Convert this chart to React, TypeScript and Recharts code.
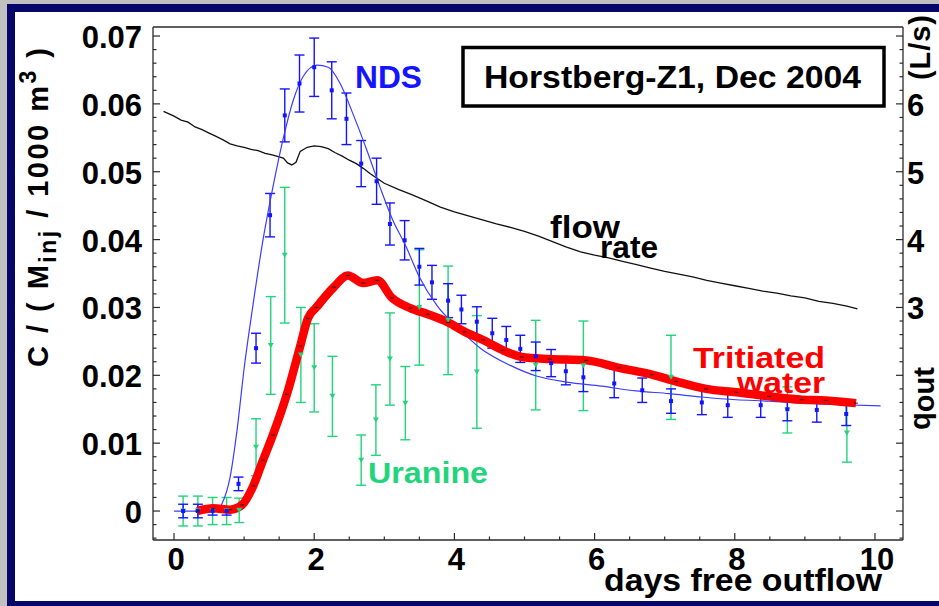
import React from "react";
import { ComposedChart, Line, Scatter, ErrorBar, XAxis, YAxis } from "recharts";

const W = 939;
const H = 606;
const PLOT = { left: 153, right: 903, top: 27, bottom: 540 };
const FONT = '"Liberation Sans", Arial, Helvetica, sans-serif';
const AXIS = "#2a2a2a";
const BLUE = "#1414ff";
const FIT_BLUE = "#3c3cff";
const GREEN = "#22d47c";
const RED = "#ff0000";
const NAVY = "#07076b";

// flow rate q_out (L/s), right axis
const FLOW_DAYS = [
  -0.15, 0, 0.1, 0.2, 0.3, 0.4, 0.5, 0.6, 0.7, 0.8, 0.9, 1.0, 1.1, 1.2, 1.3, 1.4, 1.5, 1.56, 1.62,
  1.68, 1.74, 1.8, 1.9, 2.0, 2.1, 2.2, 2.3, 2.4, 2.5, 2.6, 2.7, 2.8, 2.9, 3.0, 3.2, 3.4, 3.6, 3.8,
  4.0, 4.2, 4.4, 4.6, 4.8, 5.0, 5.2, 5.4, 5.6, 5.8, 6.0, 6.2, 6.4, 6.6, 6.8, 7.0, 7.2, 7.4, 7.6,
  7.8, 8.0, 8.2, 8.4, 8.6, 8.8, 9.0, 9.2, 9.4, 9.6, 9.75,
];
const FLOW_Q = [
  5.89, 5.82, 5.76, 5.73, 5.66, 5.62, 5.57, 5.52, 5.47, 5.41, 5.38, 5.36, 5.33, 5.31, 5.27, 5.25,
  5.22, 5.2, 5.13, 5.1, 5.14, 5.3, 5.36, 5.38, 5.37, 5.34, 5.28, 5.23, 5.17, 5.12, 5.05, 4.97, 4.9,
  4.83, 4.74, 4.66, 4.57, 4.48, 4.41, 4.35, 4.29, 4.23, 4.18, 4.12, 4.05, 3.97, 3.89, 3.82, 3.77,
  3.73, 3.68, 3.63, 3.58, 3.53, 3.49, 3.45, 3.4, 3.36, 3.32, 3.28, 3.24, 3.21, 3.17, 3.14, 3.09,
  3.06, 3.02, 2.98,
];

// NDS model curve
const FIT_DAYS = [
  0, 0.3, 0.6, 0.68, 0.8, 0.9, 1.0, 1.13, 1.27, 1.41, 1.56, 1.7, 1.84, 2.04, 2.2, 2.37, 2.55, 2.75,
  2.94, 3.12, 3.3, 3.5, 3.75, 4.08, 4.37, 4.79, 5.17, 5.6, 6.1, 6.59, 7.06, 7.53, 8.02, 8.49, 8.96,
  9.44, 10.08,
];
const FIT_C = [
  0, 0, 0, 0.001, 0.005, 0.012, 0.021, 0.0306, 0.04, 0.0477, 0.055, 0.0605, 0.064, 0.0657, 0.0654,
  0.063, 0.0586, 0.0532, 0.0477, 0.0429, 0.0392, 0.0345, 0.0303, 0.0267, 0.024, 0.0215, 0.0199,
  0.019, 0.0184, 0.0177, 0.0173, 0.0168, 0.0164, 0.0162, 0.0159, 0.0157, 0.0155,
];

// tritiated water
const TRIT_DAYS = [
  0.33, 0.56, 0.8, 0.97, 1.13, 1.27, 1.41, 1.61, 1.8, 1.91, 2.03, 2.28, 2.48, 2.7, 2.9, 3.11, 3.37,
  3.62, 3.91, 4.15, 4.41, 4.69, 4.96, 5.36, 5.88, 6.35, 6.82, 7.16, 7.59, 8.02, 8.49, 8.96, 9.3,
  9.73,
];
const TRIT_C = [
  0, 0.0004, 0.0002, 0.0009, 0.0037, 0.0075, 0.0112, 0.0172, 0.0243, 0.0284, 0.03, 0.033, 0.0347,
  0.0336, 0.034, 0.0314, 0.0299, 0.029, 0.0278, 0.0264, 0.0252, 0.0237, 0.0227, 0.0224, 0.0222,
  0.0211, 0.0201, 0.0191, 0.018, 0.0175, 0.0169, 0.0164, 0.0163, 0.0159,
];

// NDS measurements
const NDS_DAYS = [
  0.13, 0.34, 0.55, 0.75, 0.92, 1.17, 1.37, 1.58, 1.79, 2.0, 2.25, 2.46, 2.67, 2.89, 3.08, 3.29,
  3.5, 3.68, 3.91, 4.1, 4.32, 4.54, 4.74, 4.94, 5.16, 5.38, 5.59, 5.84, 6.28, 6.68, 7.09, 7.53,
  7.9, 8.37, 8.75, 9.17, 9.59,
];
const NDS_C = [
  0, 0, 0, 0, 0.004, 0.024, 0.0436, 0.0583, 0.063, 0.0654, 0.062, 0.0578, 0.0512, 0.0486, 0.0423,
  0.0399, 0.036, 0.0337, 0.031, 0.0297, 0.0279, 0.0262, 0.0252, 0.0239, 0.0228, 0.0218, 0.0206,
  0.0197, 0.0188, 0.0178, 0.0162, 0.016, 0.0156, 0.0156, 0.015, 0.0149, 0.0143,
];
const NDS_ERR = [
  0.001, 0.001, 0.0006, 0.0006, 0.001, 0.0022, 0.0032, 0.0039, 0.0042, 0.0043, 0.0042, 0.0038,
  0.0034, 0.0034, 0.0031, 0.0029, 0.0027, 0.0025, 0.0025, 0.0021, 0.0022, 0.0022, 0.002, 0.002,
  0.0021, 0.002, 0.002, 0.0021, 0.0021, 0.0018, 0.0018, 0.0018, 0.0018, 0.0018, 0.0017, 0.0018,
  0.0017,
];

// uranine measurements
const URA_DAYS = [
  0.13, 0.34, 0.55, 0.75, 0.93, 1.17, 1.38, 1.58, 1.81, 2.0, 2.26, 2.67, 2.88, 3.08, 3.3, 3.5,
  3.91, 4.32, 5.16, 5.84, 7.09, 8.75, 9.6,
];
const URA_C = [
  0, 0, 0, 0, 0.0001, 0.0094, 0.0244, 0.0377, 0.023, 0.0211, 0.0169, 0.0075, 0.0134, 0.0224,
  0.0159, 0.03, 0.0281, 0.0205, 0.0215, 0.0214, 0.0197, 0.0149, 0.0115,
];
const URA_ERR = [
  0.0022, 0.0022, 0.002, 0.002, 0.0018, 0.0042, 0.0072, 0.01, 0.007, 0.0065, 0.0059, 0.0037,
  0.0052, 0.0068, 0.0054, 0.0085, 0.008, 0.0083, 0.0066, 0.0066, 0.0062, 0.0034, 0.0043,
];

// axis ticks
const X_MAJOR = [0, 2, 4, 6, 8, 10];
const C_LABELS = [0, 0.01, 0.02, 0.03, 0.04, 0.05, 0.06, 0.07];
const Q_LABELS = [3, 4, 5, 6];

const steps = (from: number, to: number, step: number) => {
  const out: number[] = [];
  for (let k = Math.round(from / step); k <= Math.round(to / step); k++) out.push(+(k * step).toFixed(4));
  return out;
};
const X_TICKS = steps(0, 10, 0.5);
const C_TICKS = steps(-0.004, 0.07, 0.002);
const Q_TICKS = steps(-0.4, 7.0, 0.2);

const zip = (xs: number[], ys: number[], es?: number[]) =>
  xs.map((x, i) => (es ? { x, y: ys[i], err: es[i] } : { x, y: ys[i] }));

const flowData = zip(FLOW_DAYS, FLOW_Q);
const fitData = zip(FIT_DAYS, FIT_C);
const tritData = zip(TRIT_DAYS, TRIT_C);
const ndsData = zip(NDS_DAYS, NDS_C, NDS_ERR);
const uraData = zip(URA_DAYS, URA_C, URA_ERR);

const tickText = { fontFamily: FONT, fontSize: 31, fontWeight: 700, fill: "#000" } as const;

const XTick = (p: any) => {
  const v = p.payload.value;
  const major = X_MAJOR.includes(v);
  return (
    <g>
      <line x1={p.x} x2={p.x} y1={PLOT.bottom} y2={PLOT.bottom - (major ? 7 : 3.5)} stroke={AXIS} strokeWidth={1.2} />
      {major && (
        <text x={p.x + 2} y={570} textAnchor="middle" {...tickText}>
          {v}
        </text>
      )}
    </g>
  );
};

const CTick = (p: any) => {
  const v = p.payload.value;
  const k = Math.round(v * 1000);
  const major = k % 10 === 0;
  const lab = C_LABELS.find((c) => Math.abs(c - v) < 1e-6);
  return (
    <g>
      <line x1={PLOT.left} x2={PLOT.left + (major ? 7 : 3.5)} y1={p.y} y2={p.y} stroke={AXIS} strokeWidth={1.2} />
      {lab !== undefined && (
        <text x={142} y={p.y + 12} textAnchor="end" {...tickText}>
          {lab === 0 ? "0" : lab.toFixed(2)}
        </text>
      )}
    </g>
  );
};

const QTick = (p: any) => {
  const v = p.payload.value;
  const major = Math.abs(v - Math.round(v)) < 1e-6;
  const lab = Q_LABELS.find((q) => Math.abs(q - v) < 1e-6);
  return (
    <g>
      <line x1={PLOT.right} x2={PLOT.right - (major ? 7 : 3.5)} y1={p.y} y2={p.y} stroke={AXIS} strokeWidth={1.2} />
      {lab !== undefined && (
        <text x={907} y={p.y + 12} textAnchor="start" {...tickText}>
          {lab}
        </text>
      )}
    </g>
  );
};

const NdsDot = (p: any) => <rect x={p.cx - 2} y={p.cy - 2} width={4} height={4} fill={BLUE} />;
const UraDot = (p: any) => (
  <path d={`M${p.cx - 3},${p.cy - 2.5}L${p.cx + 3},${p.cy - 2.5}L${p.cx},${p.cy + 2.5}Z`} fill={GREEN} />
);
const TritDash = (p: any) => (
  <line key={p.index} x1={p.cx - 2} x2={p.cx + 2} y1={p.cy} y2={p.cy} stroke="#222" strokeWidth={1} />
);

const label = { fontFamily: FONT, fontWeight: 700 } as const;

function Overlay() {
  return (
    <svg width={W} height={H} style={{ position: "absolute", left: 0, top: 0, pointerEvents: "none" }}>
      <line x1={PLOT.left} x2={PLOT.right} y1={PLOT.top} y2={PLOT.top} stroke={AXIS} strokeWidth={1.3} />
      <rect x={463} y={47.5} width={421} height={58.5} fill="#fff" stroke="#000" strokeWidth={3.5} />
      <text x={484} y={88} fontSize={31} textLength={377} lengthAdjust="spacingAndGlyphs" {...label}>
        Horstberg-Z1, Dec 2004
      </text>
      <text x={355} y={88} fontSize={31} fill={BLUE} textLength={67} lengthAdjust="spacingAndGlyphs" {...label}>
        NDS
      </text>
      <text x={550} y={238} fontSize={32} textLength={70} lengthAdjust="spacingAndGlyphs" {...label}>
        flow
      </text>
      <text x={600} y={258} fontSize={32} textLength={58} lengthAdjust="spacingAndGlyphs" {...label}>
        rate
      </text>
      <text x={693} y={368} fontSize={30} fill={RED} textLength={132} lengthAdjust="spacingAndGlyphs" {...label}>
        Tritiated
      </text>
      <text x={737} y={393} fontSize={30} fill={RED} textLength={88} lengthAdjust="spacingAndGlyphs" {...label}>
        water
      </text>
      <text x={368} y={483} fontSize={30} fill={GREEN} textLength={120} lengthAdjust="spacingAndGlyphs" {...label}>
        Uranine
      </text>
      <text x={604} y={591} fontSize={31} textLength={278} lengthAdjust="spacingAndGlyphs" {...label}>
        days free outflow
      </text>
      <text x={48} y={367} fontSize={29} transform="rotate(-90 48 367)" textLength={319} {...label}>
        C / ( M
        <tspan fontSize={23} dy={8}>inj</tspan>
        <tspan dy={-8}> / 1000 m</tspan>
        <tspan fontSize={23} dy={-12}>3</tspan>
        <tspan dy={12}> )</tspan>
      </text>
      <text x={930} y={430} fontSize={29} transform="rotate(-90 930 430)" {...label}>
        q<tspan dy={4}>out</tspan>
      </text>
      <text x={930} y={80} fontSize={29} transform="rotate(-90 930 80)" textLength={65} {...label}>
        (L/s)
      </text>
    </svg>
  );
}

export default function App() {
  return (
    <div style={{ position: "absolute", left: 0, top: 0, width: W, height: H, background: "#c0c0c0" }}>
      <div style={{ position: "absolute", left: 7, top: 4, width: W - 7, height: H - 4, background: NAVY }} />
      <div style={{ position: "absolute", left: 15, top: 12, width: W - 15, height: 589, background: "#fff" }} />
      <div style={{ position: "absolute", left: 0, top: 0 }}>
        <ComposedChart width={W} height={H} margin={{ top: PLOT.top, right: 0, bottom: 0, left: 0 }}>
          <XAxis
            dataKey="x"
            type="number"
            domain={[-0.3, 10.4]}
            allowDataOverflow
            ticks={X_TICKS}
            interval={0}
            tick={<XTick />}
            tickLine={false}
            height={66}
            axisLine={{ stroke: AXIS, strokeWidth: 1.3 }}
          />
          <YAxis
            yAxisId="c"
            dataKey="y"
            type="number"
            domain={[-0.00427, 0.07133]}
            allowDataOverflow
            ticks={C_TICKS}
            interval={0}
            tick={<CTick />}
            tickLine={false}
            width={153}
            axisLine={{ stroke: AXIS, strokeWidth: 1.3 }}
          />
          <YAxis
            yAxisId="q"
            orientation="right"
            dataKey="y"
            type="number"
            domain={[-0.427, 7.133]}
            allowDataOverflow
            ticks={Q_TICKS}
            interval={0}
            tick={<QTick />}
            tickLine={false}
            width={36}
            axisLine={{ stroke: AXIS, strokeWidth: 1.3 }}
          />
          <Line
            data={flowData}
            dataKey="y"
            yAxisId="q"
            type="linear"
            stroke="#111"
            strokeWidth={1.3}
            dot={false}
            isAnimationActive={false}
          />
          <Scatter data={uraData} dataKey="y" yAxisId="c" shape={<UraDot />} isAnimationActive={false}>
            <ErrorBar dataKey="err" direction="y" width={5} stroke={GREEN} strokeWidth={1.4} isAnimationActive={false} />
          </Scatter>
          <Scatter data={ndsData} dataKey="y" yAxisId="c" shape={<NdsDot />} isAnimationActive={false}>
            <ErrorBar dataKey="err" direction="y" width={5} stroke={BLUE} strokeWidth={1.4} isAnimationActive={false} />
          </Scatter>
          <Line
            data={fitData}
            dataKey="y"
            yAxisId="c"
            type="monotone"
            stroke={FIT_BLUE}
            strokeWidth={1.2}
            dot={false}
            isAnimationActive={false}
          />
          <Line
            data={tritData}
            dataKey="y"
            yAxisId="c"
            type="monotone"
            stroke={RED}
            strokeWidth={8.5}
            strokeLinejoin="round"
            dot={<TritDash />}
            isAnimationActive={false}
          />
        </ComposedChart>
      </div>
      <Overlay />
    </div>
  );
}
